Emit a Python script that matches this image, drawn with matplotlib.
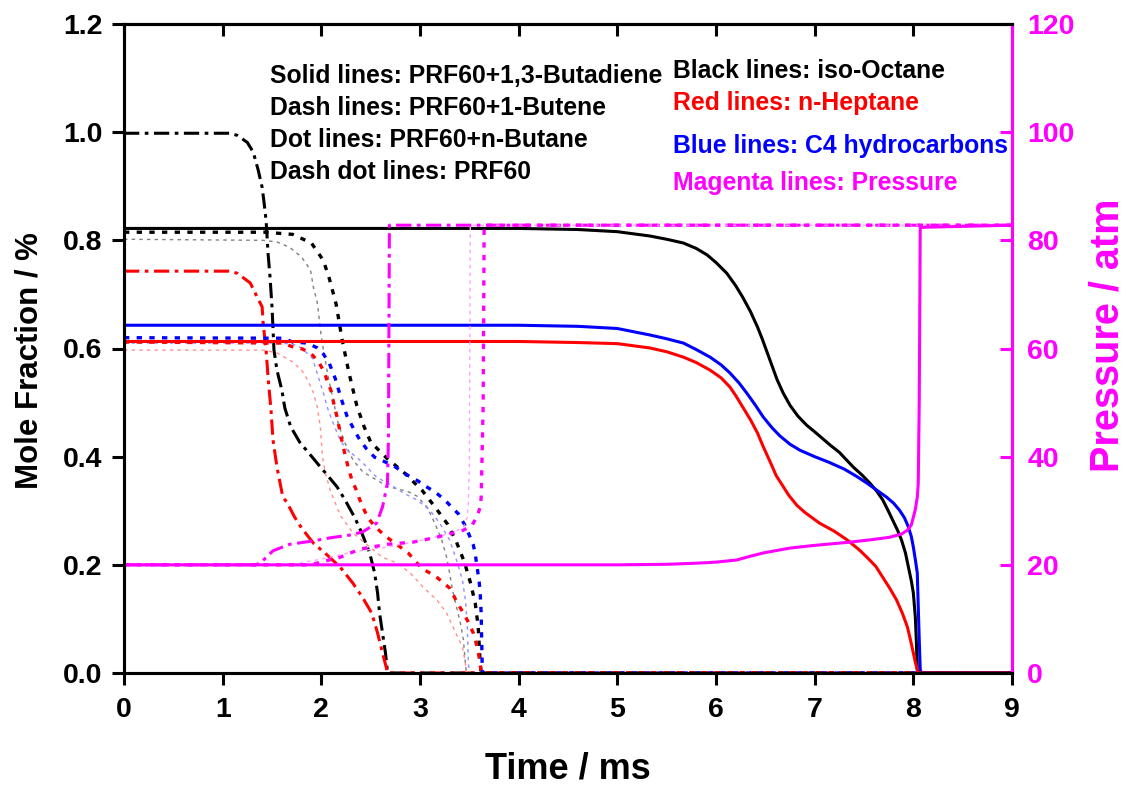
import numpy as np
import matplotlib
matplotlib.use("Agg")
import matplotlib.pyplot as plt

plt.rcParams['font.family'] = ['Liberation Sans', 'DejaVu Sans']
plt.rcParams['font.weight'] = 'bold'

# ---- solid: PRF60 + 1,3-butadiene ----
t_bd_ic8 = [0, 4.0, 4.6, 5.0, 5.33, 5.5, 5.67, 5.8, 5.91, 6.0, 6.11, 6.2, 6.27, 6.35, 6.42, 6.47, 6.52,
            6.57, 6.62, 6.68, 6.75, 6.83, 6.92, 7.0, 7.16, 7.25, 7.39, 7.48, 7.56, 7.63, 7.69, 7.74,
            7.79, 7.84, 7.88, 7.92, 7.95, 7.98, 8.00, 8.02, 8.03, 8.04, 8.05, 9.0]
y_bd_ic8 = [0.822, 0.822, 0.820, 0.816, 0.808, 0.802, 0.795, 0.785, 0.773, 0.759, 0.739, 0.716, 0.695,
            0.668, 0.640, 0.617, 0.592, 0.567, 0.542, 0.518, 0.495, 0.475, 0.458, 0.446, 0.421, 0.408,
            0.381, 0.366, 0.351, 0.336, 0.320, 0.302, 0.283, 0.264, 0.246, 0.222, 0.196, 0.170, 0.148,
            0.104, 0.061, 0.006, 0.0, 0.0]
t_bd_nc7 = [0, 4.0, 4.6, 5.0, 5.33, 5.5, 5.67, 5.8, 5.94, 6.05, 6.14, 6.2, 6.27, 6.35, 6.42, 6.48, 6.55,
            6.61, 6.68, 6.74, 6.82, 6.9, 7.05, 7.2, 7.33, 7.45, 7.53, 7.62, 7.69, 7.76, 7.83, 7.89,
            7.94, 7.97, 8.00, 8.02, 8.04, 8.05, 9.0]
y_bd_nc7 = [0.613, 0.613, 0.611, 0.609, 0.601, 0.594, 0.584, 0.574, 0.560, 0.546, 0.529, 0.513, 0.492,
            0.468, 0.444, 0.418, 0.390, 0.365, 0.345, 0.328, 0.310, 0.297, 0.277, 0.262, 0.246, 0.228,
            0.214, 0.197, 0.177, 0.157, 0.135, 0.110, 0.085, 0.062, 0.037, 0.020, 0.006, 0.0, 0.0]
t_bd_c4 = [0, 4.0, 4.6, 5.0, 5.33, 5.5, 5.67, 5.8, 5.94, 6.05, 6.14, 6.23, 6.31, 6.4, 6.48, 6.57, 6.65,
           6.75, 6.85, 7.0, 7.14, 7.3, 7.43, 7.53, 7.63, 7.73, 7.80, 7.86, 7.91, 7.95, 7.98, 8.00,
           8.02, 8.04, 8.05, 8.06, 8.07, 8.08, 9.0]
y_bd_c4 = [0.643, 0.643, 0.641, 0.637, 0.625, 0.618, 0.610, 0.598, 0.584, 0.570, 0.555, 0.537, 0.518,
           0.495, 0.473, 0.453, 0.438, 0.423, 0.412, 0.400, 0.390, 0.377, 0.363, 0.351, 0.338, 0.325,
           0.314, 0.301, 0.287, 0.270, 0.252, 0.233, 0.210, 0.185, 0.122, 0.061, 0.006, 0.0, 0.0]
t_bd_p = [0, 5.0, 5.5, 5.8, 6.0, 6.21, 6.35, 6.48, 6.6, 6.75, 7.0, 7.36, 7.6, 7.76, 7.88, 7.94, 7.98,
          8.00, 8.02, 8.04, 8.05, 8.06, 8.07, 9.0]
p_bd = [20, 20, 20.1, 20.3, 20.5, 20.9, 21.6, 22.2, 22.6, 23.1, 23.6, 24.2, 24.7, 25.1, 25.7, 26.4,
        27.4, 28.8, 30.2, 32.5, 35.1, 50.5, 82.4, 82.8]

# ---- dash: PRF60 + 1-butene ----
t_bt_ic8 = [0, 1.43, 1.71, 1.90, 2.02, 2.08, 2.15, 2.21, 2.28, 2.36, 2.43, 2.50, 2.67, 2.83, 3.02,
            3.16, 3.28, 3.37, 3.45, 3.51, 3.56, 3.59, 3.61, 3.62, 9.0]
y_bt_ic8 = [0.815, 0.815, 0.811, 0.795, 0.763, 0.730, 0.682, 0.617, 0.555, 0.494, 0.457, 0.427, 0.396,
            0.372, 0.338, 0.305, 0.275, 0.242, 0.205, 0.168, 0.129, 0.085, 0.018, 0.0, 0.0]
t_bt_nc7 = [0, 1.61, 1.71, 1.81, 1.90, 1.98, 2.03, 2.06, 2.10, 2.13, 2.16, 2.20, 2.25, 2.28, 2.31,
            2.35, 2.39, 2.47, 2.56, 2.65, 2.73, 2.80, 2.88, 2.97, 3.03, 3.15, 3.23, 3.30, 3.39, 3.44,
            3.49, 3.54, 3.58, 3.61, 3.62, 9.0]
y_bt_nc7 = [0.612, 0.610, 0.603, 0.599, 0.590, 0.573, 0.556, 0.540, 0.521, 0.495, 0.473, 0.436, 0.396,
            0.375, 0.357, 0.340, 0.320, 0.287, 0.268, 0.253, 0.242, 0.233, 0.222, 0.203, 0.192, 0.180,
            0.168, 0.157, 0.126, 0.111, 0.094, 0.074, 0.048, 0.018, 0.0, 0.0]
t_bt_c4 = [0, 1.61, 1.71, 1.86, 1.96, 2.02, 2.08, 2.14, 2.20, 2.26, 2.34, 2.39, 2.46, 2.54, 2.65, 2.75,
           2.82, 2.89, 2.98, 3.05, 3.15, 3.24, 3.32, 3.39, 3.45, 3.49, 3.54, 3.56, 3.58, 3.60, 3.61,
           3.62, 3.625, 3.63, 3.635, 9.0]
y_bt_c4 = [0.620, 0.619, 0.612, 0.610, 0.601, 0.590, 0.573, 0.545, 0.508, 0.475, 0.447, 0.431, 0.414,
           0.399, 0.390, 0.381, 0.372, 0.364, 0.355, 0.346, 0.335, 0.322, 0.307, 0.294, 0.275, 0.259,
           0.237, 0.220, 0.194, 0.168, 0.148, 0.110, 0.061, 0.018, 0.0, 0.0]
t_bt_p = [0, 1.89, 2.19, 2.39, 2.67, 2.93, 3.17, 3.44, 3.53, 3.58, 3.61, 3.62, 3.64, 3.65, 9.0]
p_bt = [20, 20, 21.4, 22.9, 23.8, 24.2, 25.1, 26.4, 27.4, 29.0, 30.7, 32.5, 49.5, 82.8, 82.8]

# ---- dot: PRF60 + n-butane ----
t_bu_ic8 = [0, 1.41, 1.55, 1.68, 1.80, 1.89, 1.92, 1.96, 1.98, 2.00, 2.03, 2.07, 2.12, 2.17, 2.24,
            2.32, 2.42, 2.67, 2.87, 2.97, 3.07, 3.15, 3.22, 3.27, 3.30, 3.33, 3.37, 3.41, 3.44, 3.46,
            3.47, 9.0]
y_bu_ic8 = [0.802, 0.800, 0.797, 0.787, 0.769, 0.745, 0.713, 0.684, 0.652, 0.621, 0.588, 0.547, 0.505,
            0.462, 0.425, 0.394, 0.372, 0.345, 0.336, 0.327, 0.307, 0.277, 0.246, 0.214, 0.185, 0.153,
            0.122, 0.092, 0.061, 0.018, 0.0, 0.0]
t_bu_nc7 = [0, 1.41, 1.55, 1.71, 1.80, 1.86, 1.92, 1.96, 1.99, 2.01, 2.04, 2.09, 2.19, 2.32, 2.49,
            2.62, 2.77, 2.90, 3.03, 3.17, 3.27, 3.35, 3.43, 3.46, 3.47, 9.0]
y_bu_nc7 = [0.597, 0.597, 0.592, 0.575, 0.560, 0.542, 0.518, 0.490, 0.455, 0.403, 0.370, 0.338, 0.292,
            0.259, 0.233, 0.214, 0.203, 0.185, 0.159, 0.135, 0.111, 0.079, 0.048, 0.018, 0.0, 0.0]
t_bu_c4 = [0, 1.58, 1.71, 1.80, 1.91, 1.97, 2.02, 2.07, 2.12, 2.19, 2.26, 2.36, 2.46, 2.56, 2.70, 2.83,
           2.97, 3.10, 3.20, 3.30, 3.37, 3.43, 3.46, 3.48, 3.49, 3.50, 9.0]
y_bu_c4 = [0.610, 0.610, 0.608, 0.601, 0.582, 0.547, 0.518, 0.486, 0.462, 0.431, 0.412, 0.399, 0.381,
           0.362, 0.348, 0.333, 0.320, 0.301, 0.277, 0.246, 0.209, 0.172, 0.135, 0.085, 0.018, 0.0, 0.0]
t_bu_p = [0, 1.68, 2.01, 2.32, 2.67, 3.03, 3.33, 3.44, 3.48, 3.49, 3.50, 3.51, 9.0]
p_bu = [20, 20, 21.1, 22.4, 23.3, 24.6, 25.9, 27.0, 28.8, 32.0, 38.1, 82.8, 82.8]

# ---- dash dot: PRF60 ----
t_prf_ic8 = [0, 1.07, 1.15, 1.25, 1.31, 1.36, 1.40, 1.42, 1.44, 1.46, 1.48, 1.50, 1.52, 1.55, 1.60,
             1.63, 1.69, 1.78, 1.89, 1.99, 2.06, 2.16, 2.24, 2.34, 2.41, 2.49, 2.54, 2.57, 2.59, 2.62,
             2.65, 2.67, 2.68, 9.0]
y_prf_ic8 = [0.998, 0.998, 0.994, 0.981, 0.963, 0.930, 0.898, 0.869, 0.837, 0.776, 0.732, 0.677, 0.597,
             0.560, 0.523, 0.490, 0.455, 0.427, 0.403, 0.381, 0.366, 0.344, 0.320, 0.287, 0.259, 0.222,
             0.185, 0.148, 0.111, 0.074, 0.037, 0.002, 0.0, 0.0]
t_prf_nc7 = [0, 1.07, 1.15, 1.28, 1.35, 1.40, 1.41, 1.44, 1.46, 1.49, 1.51, 1.55, 1.61, 1.65, 1.73,
             1.80, 1.92, 2.06, 2.19, 2.32, 2.42, 2.51, 2.57, 2.62, 2.67, 2.68, 9.0]
y_prf_nc7 = [0.743, 0.743, 0.739, 0.721, 0.695, 0.677, 0.647, 0.597, 0.547, 0.486, 0.431, 0.381, 0.325,
             0.316, 0.288, 0.268, 0.240, 0.218, 0.196, 0.166, 0.139, 0.111, 0.074, 0.037, 0.002, 0.0, 0.0]
t_prf_p = [0, 1.33, 1.38, 1.51, 1.68, 1.91, 2.09, 2.29, 2.42, 2.56, 2.62, 2.67, 2.68, 2.69, 9.0]
p_prf = [20, 20, 20.3, 22.6, 23.8, 24.4, 25.0, 25.5, 26.1, 27.7, 30.7, 35.1, 43.1, 82.8, 82.8]

x_ticks = list(range(0, 10))
y_ticks = [0.0, 0.2, 0.4, 0.6, 0.8, 1.0, 1.2]
p_ticks = [0, 20, 40, 60, 80, 100, 120]

left_notes = ["Solid lines: PRF60+1,3-Butadiene", "Dash lines: PRF60+1-Butene",
              "Dot lines: PRF60+n-Butane", "Dash dot lines: PRF60"]
right_notes = ["Black lines: iso-Octane", "Red lines: n-Heptane",
               "Blue lines: C4 hydrocarbons", "Magenta lines: Pressure"]
right_colors = ["black", "red", "blue", "magenta"]

BLK, RED, BLU, MAG = "#000000", "#ff0000", "#0000ff", "#ff00ff"

fig = plt.figure(figsize=(11.29, 7.88), dpi=100)
ax = fig.add_axes([124 / 1129, 1 - 673 / 788, (1012 - 124) / 1129, (673 - 24) / 788])
ax2 = ax.twinx()

solid = dict(lw=2.2, ls="-")
dash = dict(lw=2.4, dashes=(1.6, 2.2))
dot = dict(lw=1.0, dashes=(2.5, 3.0))
dashdot = dict(lw=2.2, dashes=(5.0, 1.8, 1.2, 1.8))

# dash dot (PRF60)
ax.plot(t_prf_ic8, y_prf_ic8, color=BLK, **dashdot)
ax.plot(t_prf_nc7, y_prf_nc7, color=RED, **dashdot)
ax2.plot(t_prf_p, p_prf, color=MAG, **dashdot)
# dot (n-butane)
ax.plot(t_bu_ic8, y_bu_ic8, color="#808080", **dot)
ax.plot(t_bu_nc7, y_bu_nc7, color="#ff9090", **dot)
ax.plot(t_bu_c4, y_bu_c4, color="#9090ff", **dot)
ax2.plot(t_bu_p, p_bu, color="#ffa0ff", **dot)
# dash (1-butene)
ax.plot(t_bt_ic8, y_bt_ic8, color=BLK, **dash)
ax.plot(t_bt_nc7, y_bt_nc7, color=RED, **dash)
ax.plot(t_bt_c4, y_bt_c4, color=BLU, **dash)
ax2.plot(t_bt_p, p_bt, color=MAG, **dash)
# solid (1,3-butadiene)
ax.plot(t_bd_ic8, y_bd_ic8, color=BLK, **solid)
ax.plot(t_bd_c4, y_bd_c4, color=BLU, **solid)
ax.plot(t_bd_nc7, y_bd_nc7, color=RED, **solid)
ax2.plot(t_bd_p, p_bd, color=MAG, **solid)

ax.set_xlim(0, 9)
ax.set_ylim(0, 1.2)
ax2.set_ylim(0, 120)
ax.set_xticks(x_ticks)
ax.set_yticks(y_ticks)
ax.set_yticklabels([f"{v:.1f}" for v in y_ticks])
ax2.set_yticks(p_ticks)

for sp in ax.spines.values():
    sp.set_linewidth(2.2)
for sp in ax2.spines.values():
    sp.set_linewidth(2.2)
ax2.spines["right"].set_color(MAG)
ax.spines["right"].set_color(MAG)

ax.tick_params(axis="x", direction="out", length=8.5, width=2.2, labelsize=20.5, pad=9)
ax.tick_params(axis="y", direction="out", length=8.5, width=2.2, labelsize=20.5, pad=7)
ax2.tick_params(axis="y", direction="in", length=8.5, width=2.2, colors=MAG, labelsize=20.5, pad=11)
top = ax.secondary_xaxis("top")
top.set_xticks(x_ticks)
top.tick_params(direction="in", length=8.5, width=2.2, labeltop=False)
top.spines["top"].set_linewidth(2.2)

ax.set_xlabel("Time / ms", fontsize=26, fontweight="bold", labelpad=20)
ax.set_ylabel("Mole Fraction / %", fontsize=22.5, fontweight="bold")
ax.yaxis.set_label_coords(-0.090, 0.481)
ax2.set_ylabel("Pressure / atm", fontsize=28.5, fontweight="bold", color=MAG)
ax2.yaxis.set_label_coords(1.086, 0.52)

left_y = [83, 115, 147, 179]
right_y = [78, 110, 153, 190]
for txt, yp in zip(left_notes, left_y):
    fig.text(270 / 1129, 1 - yp / 788, txt, fontsize=17.8, fontweight="bold", color="black",
             va="baseline", ha="left")
for txt, yp, c in zip(right_notes, right_y, right_colors):
    fig.text(673 / 1129, 1 - yp / 788, txt, fontsize=17.8, fontweight="bold", color=c,
             va="baseline", ha="left")

fig.savefig("out.png", dpi=100)
